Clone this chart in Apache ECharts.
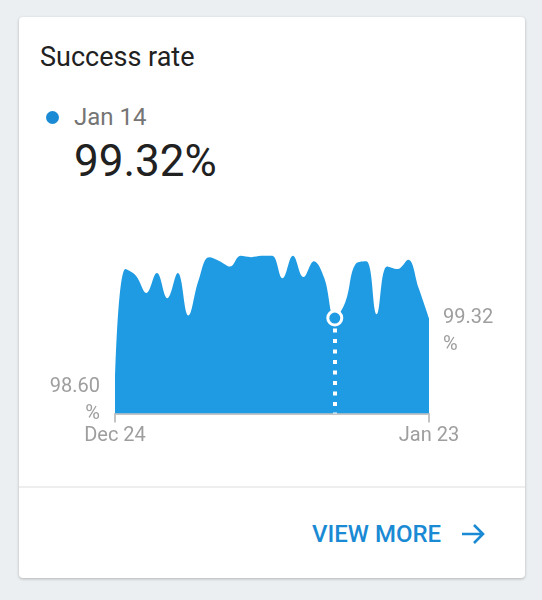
<!DOCTYPE html>
<html>
<head>
<meta charset="utf-8">
<script src="https://cdn.jsdelivr.net/npm/echarts@6/dist/echarts.min.js"></script>
<style>
  body {
    margin: 0;
    background: #eceff1;
    font-family: Roboto, sans-serif;
  }
  .card {
    position: absolute;
    left: 19px;
    top: 17px;
    width: 506px;
    height: 561px;
    background: #fff;
    border-radius: 4px;
    box-shadow: 0 1px 3px rgba(0, 0, 0, 0.25);
  }
  .txt {
    position: absolute;
    white-space: nowrap;
    line-height: 1;
  }
  .title { left: 40px; top: 44px; font-size: 27px; color: #212121; }
  .dot { position: absolute; left: 46px; top: 111px; width: 13px; height: 13px; border-radius: 50%; background: #1a8ad4; }
  .date { left: 74px; top: 105px; font-size: 24px; color: #757575; }
  .value { left: 74px; top: 139px; font-size: 44px; color: #212121; }
  .divider { position: absolute; left: 19px; top: 486px; width: 506px; height: 2px; background: #eeeeee; }
  .more { left: 312px; top: 522px; font-size: 24px; font-weight: 500; color: #1a8ad4; }
  .arrow { position: absolute; left: 461px; top: 523px; }
  #main {
    position: absolute;
    left: 0;
    top: 0;
    width: 542px;
    height: 600px;
  }
</style>
</head>
<body>
  <div class="card"></div>
  <div class="txt title">Success rate</div>
  <div class="dot"></div>
  <div class="txt date">Jan 14</div>
  <div class="txt value">99.32%</div>
  <div class="divider"></div>
  <div class="txt more">VIEW MORE</div>
  <svg class="arrow" width="26" height="22" viewBox="0 0 26 22">
    <path d="M1 11 H22 M13 2 L22 11 L13 20" fill="none" stroke="#1a8ad4" stroke-width="2.6" />
  </svg>
  <div id="main"></div>
<script>
  // data
  var days = [
    'Dec 24', 'Dec 25', 'Dec 26', 'Dec 27', 'Dec 28', 'Dec 29', 'Dec 30', 'Dec 31',
    'Jan 1', 'Jan 2', 'Jan 3', 'Jan 4', 'Jan 5', 'Jan 6', 'Jan 7', 'Jan 8',
    'Jan 9', 'Jan 10', 'Jan 11', 'Jan 12', 'Jan 13', 'Jan 14', 'Jan 15', 'Jan 16',
    'Jan 17', 'Jan 18', 'Jan 19', 'Jan 20', 'Jan 21', 'Jan 22', 'Jan 23',
  ]
  var rates = [
    98.83, 99.69, 99.64, 99.51, 99.66, 99.47, 99.66, 99.34,
    99.61, 99.78, 99.75, 99.71, 99.79, 99.78, 99.79, 99.79,
    99.62, 99.79, 99.63, 99.75, 99.62, 99.32, 99.44, 99.73,
    99.75, 99.35, 99.71, 99.69, 99.76, 99.55, 99.32,
  ]
  var selectedDay = 'Jan 14'
  var selectedRate = 99.32
  var yMin = 98.6
  var yMax = 100

  var blue = '#1e9be2'
  var grey = '#9e9e9e'
  var lastIdx = days.length - 1

  var chart = echarts.init(document.getElementById('main'))
  var option = {
    animation: false,
    grid: {
      left: 115,
      top: 228,
      width: 314,
      height: 185.5,
    },
    xAxis: {
      type: 'category',
      data: days,
      boundaryGap: false,
      axisLine: { lineStyle: { color: '#c4c4c4', width: 2 } },
      axisTick: {
        length: 9,
        lineStyle: { color: '#c4c4c4', width: 2 },
        interval: function (i) {
          return i === 0 || i === lastIdx
        },
      },
      axisLabel: {
        margin: 12,
        fontFamily: 'Roboto',
        fontSize: 20,
        color: grey,
        showMinLabel: true,
        showMaxLabel: true,
        interval: function (i) {
          return i === 0 || i === lastIdx
        },
      },
      splitLine: { show: false },
    },
    yAxis: [
      {
        type: 'value',
        min: yMin,
        max: yMax,
        axisLine: { show: false },
        axisTick: { show: false },
        splitLine: { show: false },
        axisLabel: {
          customValues: [yMin],
          margin: 15,
          fontFamily: 'Roboto',
          fontSize: 20,
          lineHeight: 27,
          color: grey,
          align: 'right',
          formatter: function (v) {
            return v.toFixed(2) + '\n%\n '
          },
        },
      },
      {
        type: 'value',
        position: 'right',
        min: yMin,
        max: yMax,
        axisLine: { show: false },
        axisTick: { show: false },
        splitLine: { show: false },
        axisLabel: {
          customValues: [rates[lastIdx]],
          margin: 14,
          fontFamily: 'Roboto',
          fontSize: 20,
          lineHeight: 27,
          color: grey,
          align: 'left',
          formatter: function (v) {
            return ' \n' + v.toFixed(2) + '\n%'
          },
        },
      },
    ],
    series: [
      {
        type: 'line',
        data: rates,
        smooth: 0.4,
        showSymbol: false,
        lineStyle: { width: 0 },
        areaStyle: { color: blue, opacity: 1, origin: 'start' },
        markLine: {
          silent: true,
          symbol: 'none',
          label: { show: false },
          lineStyle: { color: '#fff', width: 4, type: [4, 6.5], cap: 'butt' },
          data: [
            [
              { coord: [selectedDay, selectedRate] },
              { coord: [selectedDay, yMin] },
            ],
          ],
        },
        markPoint: {
          silent: true,
          symbol: 'circle',
          symbolSize: 14,
          label: { show: false },
          itemStyle: { color: blue, borderColor: '#fff', borderWidth: 3 },
          data: [{ coord: [selectedDay, selectedRate] }],
        },
      },
    ],
  }
  chart.setOption(option)
</script>
</body>
</html>
